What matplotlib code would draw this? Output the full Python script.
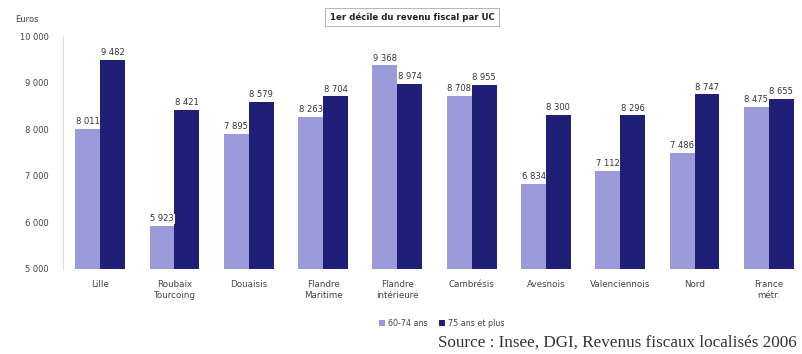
import numpy as np
import matplotlib
matplotlib.use("Agg")
import matplotlib.pyplot as plt

# zones et valeurs (1er décile du revenu fiscal par UC, euros)
zones = ["Lille", "Roubaix\nTourcoing", "Douaisis", "Flandre\nMaritime", "Flandre\nintérieure",
         "Cambrésis", "Avesnois", "Valenciennois", "Nord", "France\nmétr."]
age_60_74 = [8011, 5923, 7895, 8263, 9368, 8708, 6834, 7112, 7486, 8475]
age_75_plus = [9482, 8421, 8579, 8704, 8974, 8955, 8300, 8296, 8747, 8655]
yticks = [5000, 6000, 7000, 8000, 9000, 10000]

light = "#9b9bd9"
dark = "#1f1f78"

def fmt(v):
    return f"{v:,}".replace(",", " ")

fig = plt.figure(figsize=(8.02, 3.54), dpi=100)
ax = fig.add_axes([63/802, 85/354, 743/802, 233/354])

x = np.arange(len(zones))
w = 0.335
b1 = ax.bar(x - w/2, age_60_74, w, color=light, label="60-74 ans")
b2 = ax.bar(x + w/2, age_75_plus, w, color=dark, label="75 ans et plus")

for bars, vals in ((b1, age_60_74), (b2, age_75_plus)):
    for r, v in zip(bars, vals):
        ax.text(r.get_x() + r.get_width()/2, v + 60, fmt(v), ha="center", va="bottom",
                fontsize=6, color="#333333",
                bbox=dict(facecolor="white", edgecolor="none", pad=0.5))

ax.set_ylim(5000, 10000)
ax.set_xlim(-0.5, len(zones) - 0.5)
ax.set_yticks(yticks)
ax.set_yticklabels([fmt(t) for t in yticks], fontsize=6, color="#444444")
ax.set_xticks(x)
ax.set_xticklabels(zones, fontsize=6.3, color="#444444", linespacing=1.3)
ax.tick_params(length=0, pad=8)
ax.tick_params(axis="y", pad=10)
for s in ["top", "right", "bottom"]:
    ax.spines[s].set_visible(False)
ax.spines["left"].set_color("#dddddd")

fig.text(15/802, 1 - 20/354, "Euros", fontsize=6, color="#444444", va="center")
fig.text(412/802, 1 - 17/354, "1er décile du revenu fiscal par UC", fontsize=6.2,
         fontweight="bold", color="#222222", ha="center", va="center",
         bbox=dict(facecolor="white", edgecolor="#aaaaaa", linewidth=0.6, pad=3))

fig.legend(handles=[b1, b2], loc="center", bbox_to_anchor=(442/802, 1 - 323/354),
           ncol=2, frameon=False, fontsize=5.8, handlelength=0.7, handleheight=0.7,
           columnspacing=1.4, handletextpad=0.4, labelcolor="#444444")

fig.text(438/802, 1 - 343/354, "Source : Insee, DGI, Revenus fiscaux localisés 2006",
         fontsize=12.3, family="Liberation Serif", color="#333333", va="center")

fig.savefig("out.png", dpi=100)
